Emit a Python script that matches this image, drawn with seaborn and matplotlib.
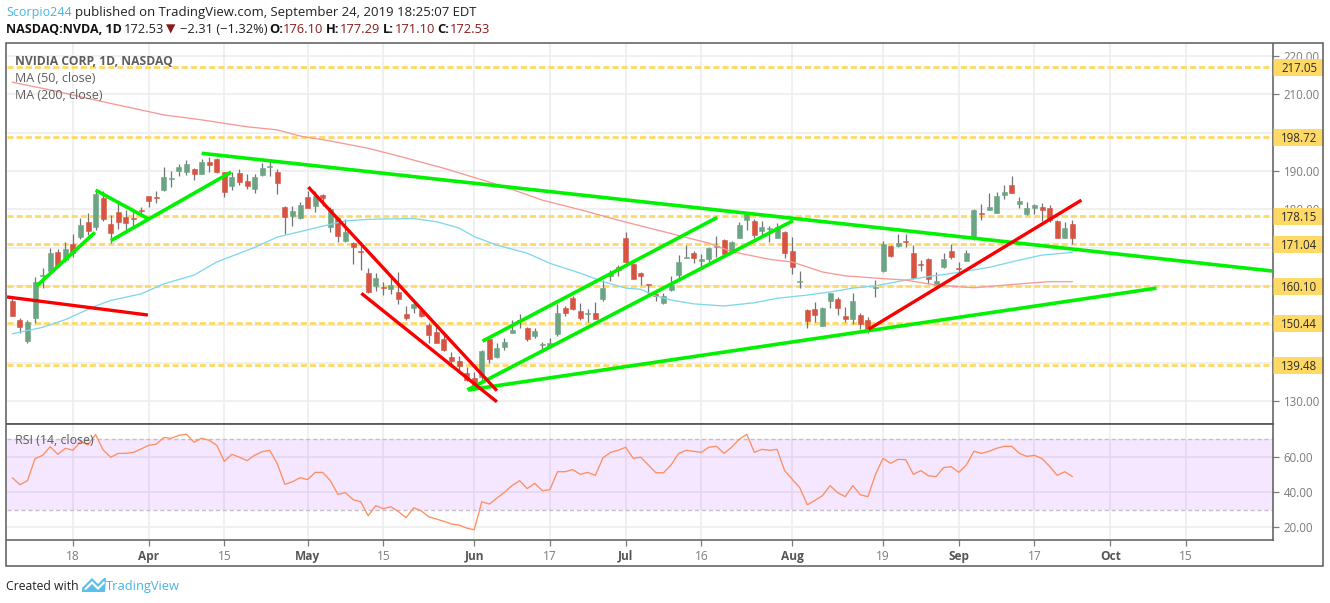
import matplotlib
matplotlib.use("Agg")

import matplotlib.pyplot as plt
from matplotlib.patches import Polygon, Rectangle
from matplotlib.transforms import Affine2D
import seaborn as sns
import pandas as pd
import numpy as np


# ==================================================
# Candles (one per trading day, 6 Mar - 24 Sep 2019)
# ==================================================

opens = [
    156.2, 151.2, 145.7, 151.7, 162.6, 164.0, 169.0, 166.8, 171.1, 172.7,
    176.8, 175.3, 182.9, 176.1, 179.4, 177.9, 177.6, 179.9, 183.4, 183.2,
    185.0, 188.0, 190.0, 189.7, 190.4, 189.2, 192.25, 193.0, 189.65, 186.1,
    189.55, 187.5, 185.2, 188.95, 191.1, 189.65, 180.7, 178.3, 177.8, 183.1,
    180.9, 183.7, 175.5, 177.8, 171.85, 171.3, 169.1, 163.5, 160.05, 159.8,
    159.2, 158.6, 152.7, 154.25, 153.8, 149.9, 148.15, 146.2, 141.65, 140.6,
    137.5, 136.1, 136.3, 146.2, 141.5, 144.1, 147.75, 151.05, 149.2, 147.1,
    144.7, 144.25, 147.5, 154.4, 157.0, 153.6, 152.75, 153.1, 156.6, 162.65,
    165.1, 172.6, 165.8, 163.35, 160.4, 158.05, 155.55, 158.9, 162.85, 167.4,
    168.55, 166.5, 167.1, 170.3, 172.0, 169.0, 172.6, 177.25, 177.05, 174.4,
    174.8, 172.6, 174.2, 169.25, 161.1, 153.8, 154.0, 149.7, 156.15, 156.75,
    152.3, 151.45, 152.5, 151.15, 159.45, 164.05, 170.55, 170.45, 171.7, 168.55,
    165.7, 167.15, 160.3, 164.9, 169.1, 164.6, 166.55, 172.7, 179.0, 179.8,
    179.1, 183.8, 186.25, 181.4, 178.8, 180.4, 180.7, 180.3, 177.05, 172.6,
    176.10,
]

highs = [
    156.7, 151.7, 151.2, 162.4, 164.7, 169.9, 169.6, 171.6, 173.5, 177.7,
    179.1, 185.0, 184.9, 178.5, 181.8, 179.8, 179.8, 180.6, 183.5, 184.9,
    190.95, 190.1, 191.8, 192.85, 190.7, 193.0, 193.55, 193.3, 189.8, 189.8,
    190.4, 189.2, 189.1, 192.15, 192.7, 190.4, 180.95, 180.9, 182.0, 184.9,
    184.9, 184.0, 180.5, 178.1, 177.4, 171.6, 171.6, 164.7, 163.5, 161.2,
    162.05, 163.8, 154.9, 156.0, 154.7, 150.35, 149.9, 147.75, 142.95, 141.8,
    138.9, 137.75, 143.4, 146.35, 145.15, 146.45, 151.2, 152.7, 149.45, 149.2,
    145.55, 146.45, 155.3, 154.85, 157.45, 155.7, 154.0, 156.0, 161.6, 164.2,
    165.5, 174.0, 165.95, 163.6, 160.6, 158.85, 158.15, 162.65, 168.1, 170.7,
    169.15, 168.3, 170.3, 173.05, 172.2, 171.85, 176.8, 179.1, 177.55, 177.05,
    175.7, 176.4, 174.45, 172.9, 164.05, 154.0, 155.8, 154.5, 158.3, 157.1,
    154.5, 158.15, 153.1, 151.9, 161.6, 171.75, 170.7, 173.5, 173.5, 170.7,
    166.8, 167.25, 163.6, 168.55, 170.9, 166.2, 169.4, 180.0, 181.3, 184.2,
    184.45, 186.35, 188.7, 183.15, 181.8, 181.4, 181.6, 181.15, 177.25, 176.8,
    177.29,
]

lows = [
    152.25, 147.9, 145.2, 150.4, 159.5, 163.7, 165.1, 166.4, 167.7, 172.2,
    173.3, 174.6, 177.05, 171.3, 174.8, 173.9, 175.15, 178.3, 180.7, 181.7,
    184.9, 185.9, 188.7, 188.95, 187.65, 189.2, 189.8, 189.55, 183.3, 185.0,
    186.35, 185.2, 184.3, 188.7, 188.7, 183.9, 173.6, 175.7, 177.4, 180.3,
    179.4, 180.9, 174.2, 171.6, 171.6, 165.7, 164.2, 158.3, 158.75, 157.7,
    158.0, 155.4, 151.2, 152.95, 152.05, 145.15, 145.15, 143.2, 139.05, 137.75,
    135.4, 133.0, 135.6, 140.1, 141.25, 143.4, 147.75, 149.2, 145.8, 146.6,
    142.95, 143.85, 147.1, 152.3, 153.8, 151.2, 150.75, 151.45, 156.2, 161.35,
    162.65, 165.95, 161.8, 160.3, 157.7, 156.2, 155.3, 158.75, 162.05, 167.25,
    166.1, 165.1, 166.2, 167.7, 168.1, 168.7, 172.45, 174.6, 172.45, 172.9,
    171.4, 172.45, 167.25, 163.2, 159.45, 149.05, 150.6, 149.65, 154.25, 152.5,
    150.6, 150.1, 148.8, 147.9, 157.1, 163.6, 167.5, 170.1, 170.1, 161.9,
    164.05, 160.55, 160.05, 164.8, 167.0, 162.9, 166.5, 172.0, 177.25, 179.8,
    179.0, 182.6, 184.2, 180.3, 178.55, 178.8, 177.05, 176.8, 172.45, 172.45,
    171.10,
]

closes = [
    152.25, 149.5, 150.7, 161.2, 162.8, 168.7, 165.3, 169.8, 168.7, 175.9,
    174.4, 183.9, 177.5, 173.9, 176.8, 176.5, 177.4, 179.7, 182.2, 183.0,
    188.5, 188.2, 190.95, 191.7, 189.2, 192.25, 191.55, 189.8, 184.5, 188.35,
    187.1, 186.1, 188.5, 190.7, 191.3, 186.8, 177.9, 179.6, 181.05, 180.3,
    183.5, 182.9, 180.0, 173.1, 174.0, 170.1, 168.9, 158.4, 162.2, 159.6,
    160.4, 156.6, 151.65, 155.3, 152.25, 147.2, 145.15, 143.4, 140.5, 139.2,
    135.6, 133.85, 143.2, 141.15, 144.0, 145.55, 148.7, 150.85, 146.2, 148.4,
    144.9, 145.3, 153.1, 153.1, 154.0, 151.65, 152.95, 151.45, 159.45, 163.5,
    164.15, 166.2, 161.95, 162.6, 160.2, 157.4, 157.45, 160.3, 166.4, 167.6,
    167.25, 167.15, 169.85, 170.5, 168.4, 171.4, 175.9, 178.8, 173.25, 175.3,
    175.0, 175.5, 168.55, 164.9, 161.3, 150.85, 152.4, 154.25, 158.3, 154.25,
    151.45, 156.2, 150.15, 148.8, 159.65, 171.0, 167.85, 171.3, 171.5, 162.2,
    165.5, 161.8, 161.45, 167.15, 167.5, 164.4, 168.7, 179.8, 178.8, 180.5,
    183.5, 184.45, 184.35, 182.1, 180.3, 181.15, 179.8, 177.25, 172.6, 175.05,
    172.53,
]


# ==================================================
# Moving averages
# ==================================================

ma50_bars = [
    0, 4, 7, 11, 13, 17, 20, 24, 27, 32, 35, 38, 42, 44, 47, 49, 53, 56, 59, 61,
    64, 68, 71, 75, 78, 81, 83, 85, 87, 90, 94, 98, 101, 105, 108, 111, 114, 118,
    121, 125, 129, 133, 136, 140,
]
ma50_values = [
    147.6, 149.3, 151.3, 154.85, 156.3, 158.0, 160.6, 162.9, 166.3, 170.1, 172.8,
    174.2, 176.1, 177.0, 177.4, 177.5, 177.6, 176.8, 175.15, 172.9, 170.7, 168.6,
    165.95, 163.4, 161.2, 159.5, 159.2, 157.45, 156.4, 155.4, 154.85, 155.7,
    156.85, 157.7, 158.5, 159.5, 160.1, 161.6, 162.5, 163.6, 164.9, 166.8, 168.1,
    168.8,
]

ma200_bars = [
    0, 5, 12, 16, 20, 25, 31, 35, 38, 42, 47, 51, 57, 65, 70, 76, 80, 86, 92, 95,
    100, 103, 107, 110, 114, 118, 122, 127, 133, 137, 140,
]
ma200_values = [
    213.1, 211.1, 208.0, 206.3, 204.6, 203.3, 201.5, 200.7, 199.1, 197.8, 195.9,
    193.9, 190.7, 185.9, 182.4, 179.4, 177.2, 174.2, 171.2, 169.0, 167.0, 166.3,
    163.7, 162.7, 162.1, 161.6, 160.3, 159.6, 160.6, 161.2, 161.2,
]


# ==================================================
# RSI
# ==================================================

rsi_values = [
    48.2, 44.2, 46.5, 59.0, 60.9, 65.8, 61.5, 64.9, 63.75, 68.7,
    66.8, 72.7, 63.9, 59.8, 62.0, 62.0, 62.6, 64.5, 66.6, 67.2,
    71.0, 70.6, 72.3, 72.85, 68.3, 70.6, 69.4, 66.6, 57.5, 61.5,
    59.8, 57.9, 60.9, 63.0, 63.75, 56.0, 44.4, 45.9, 48.2, 47.1,
    51.2, 51.2, 46.5, 38.7, 39.7, 35.7, 34.6, 26.6, 32.3, 30.6,
    31.7, 28.9, 25.5, 31.1, 29.4, 26.0, 24.7, 23.4, 21.9, 21.3,
    19.6, 18.6, 34.6, 33.2, 36.6, 39.9, 43.7, 46.5, 42.0, 45.0,
    40.8, 41.4, 51.6, 51.6, 52.8, 50.1, 51.2, 49.5, 59.4, 62.6,
    63.75, 65.5, 59.2, 59.8, 55.4, 51.0, 51.0, 55.4, 62.0, 63.75,
    63.2, 62.6, 65.5, 66.0, 62.0, 65.5, 70.0, 72.85, 62.6, 64.3,
    63.75, 64.3, 52.2, 47.3, 42.5, 32.8, 35.3, 38.0, 43.7, 39.7,
    37.4, 43.7, 38.5, 37.4, 50.1, 59.2, 56.4, 58.6, 58.4, 50.1,
    52.2, 49.3, 48.8, 53.9, 54.5, 51.2, 55.4, 63.2, 62.0, 63.2,
    64.9, 66.0, 66.0, 62.0, 60.3, 60.9, 59.0, 54.6, 49.5, 51.6,
    48.8,
]


# ==================================================
# Drawn levels and trend lines (bar, price, bar, price)
# ==================================================

levels = [217.05, 198.72, 178.15, 171.04, 160.10, 150.44, 139.48]

green_lines = [
    (3.2, 160.05, 10.9, 174.0),
    (11.0, 185.0, 18.0, 177.5),
    (13.0, 171.85, 28.9, 189.7),
    (25.0, 194.6, 166.4, 163.96),
    (62.1, 145.7, 93.1, 177.9),
    (60.1, 133.0, 103.1, 177.05),
    (60.2, 133.0, 151.1, 159.5),
]

red_lines = [
    (-0.7, 157.2, 17.9, 152.5),
    (39.1, 185.8, 64.0, 132.8),
    (46.1, 158.15, 64.0, 129.9),
    (113.1, 148.8, 141.2, 182.4),
]


# ==================================================
# Axis labels
# ==================================================

price_ticks = [130, 140, 150, 160, 170, 180, 190, 200, 210, 220]
price_tick_labels = ["130.00", "", "", "", "", "180.00", "190.00", "", "210.00", "220.00"]

rsi_ticks = [20, 40, 60]
rsi_tick_labels = ["20.00", "40.00", "60.00"]

date_bars = [8, 18, 28, 39, 49, 61, 71, 81, 91, 103, 115, 125, 135, 145, 155]
date_labels = ["18", "Apr", "15", "May", "15", "Jun", "17", "Jul", "16", "Aug", "19", "Sep", "17", "Oct", "15"]
month_labels = ["Apr", "May", "Jun", "Jul", "Aug", "Sep", "Oct"]


# ==================================================
# Colours
# ==================================================

GREEN = "#6BA583"
RED = "#D75442"
WICK = "#737375"
LEVEL = "#FFD966"
FRAME = "#5A5A5A"
GRID = "#EDEDEF"
SCALE_TEXT = "#7B7B7B"
LEGEND_TEXT = "#5E5E5E"
BLUE = "#45B5E6"
DARK_RED = "#8B1A1A"
INK = "#222222"


# ==================================================
# Figure
# ==================================================

sns.set_theme(style="white")
plt.rcParams["font.family"] = ["Open Sans", "DejaVu Sans"]

WIDTH = 1330
HEIGHT = 603

fig = plt.figure(figsize=(WIDTH / 100, HEIGHT / 100), dpi=100, facecolor="white")


def panel(top, bottom):
    return fig.add_axes([
        6.5 / WIDTH,
        1 - bottom / HEIGHT,
        (1273 - 6.5) / WIDTH,
        (bottom - top) / HEIGHT
    ])


ax = panel(44, 424)
ax_rsi = panel(424, 540)

# pixel transform with the origin at the top left
pixels = Affine2D().scale(1, -1).translate(0, HEIGHT)

fig.patches.append(Rectangle(
    (6, 43), 1317, 523, transform=pixels,
    fill=False, edgecolor=FRAME, linewidth=1.1
))


# ==================================================
# Price panel
# ==================================================

candles = pd.DataFrame({
    "open": opens,
    "high": highs,
    "low": lows,
    "close": closes
})
candles["bar"] = np.arange(len(candles))
candles["colour"] = np.where(candles["close"] >= candles["open"], GREEN, RED)

ax.vlines(
    candles["bar"], candles["low"], candles["high"],
    color=WICK, linewidth=0.9, zorder=3
)

ax.bar(
    candles["bar"],
    (candles["close"] - candles["open"]).abs().clip(lower=0.25),
    bottom=candles[["open", "close"]].min(axis=1),
    width=0.66,
    color=candles["colour"],
    edgecolor=candles["colour"],
    linewidth=0.4,
    zorder=4
)

ma50 = pd.DataFrame({"bar": ma50_bars, "value": ma50_values})
ma200 = pd.DataFrame({"bar": ma200_bars, "value": ma200_values})

sns.lineplot(data=ma50, x="bar", y="value", ax=ax, color="#7FD8EA", linewidth=0.95, zorder=5)
sns.lineplot(data=ma200, x="bar", y="value", ax=ax, color="#F59A96", linewidth=0.95, zorder=5)

for level in levels:
    ax.axhline(level, color=LEVEL, linewidth=2.0, dashes=(2.2, 1.1), zorder=2)

    ax.add_patch(Rectangle(
        (1.0, level), 50 / (1273 - 6.5), 0,
        transform=ax.get_yaxis_transform(),
        clip_on=False, zorder=9,
        edgecolor=LEVEL, linewidth=12.2, capstyle="butt"
    ))

    ax.text(
        1.0 + 26 / (1273 - 6.5), level, f"{level:.2f}",
        transform=ax.get_yaxis_transform(),
        ha="center", va="center_baseline", fontsize=8.3,
        color="#2B2B2B", zorder=10
    )

for x0, y0, x1, y1 in green_lines:
    ax.plot([x0, x1], [y0, y1], color="#00F200", linewidth=2.6, solid_capstyle="butt", zorder=6)

for x0, y0, x1, y1 in red_lines:
    ax.plot([x0, x1], [y0, y1], color="#FA0000", linewidth=2.4, solid_capstyle="butt", zorder=6)

ax.set_ylim(124.13, 223.05)
ax.set_yticks(price_ticks)
ax.set_yticklabels(price_tick_labels)


# ==================================================
# RSI panel
# ==================================================

ax_rsi.axhspan(30, 70, facecolor="#9915FF", alpha=0.1, edgecolor="none", zorder=1)
ax_rsi.axhline(70, color="#C4BECB", linewidth=1, dashes=(3, 2), zorder=2)
ax_rsi.axhline(30, color="#C4BECB", linewidth=1, dashes=(3, 2), zorder=2)

rsi = pd.DataFrame({"bar": np.arange(len(rsi_values)), "value": rsi_values})

sns.lineplot(data=rsi, x="bar", y="value", ax=ax_rsi, color="#FF8F5E", linewidth=0.95, zorder=5)

ax_rsi.set_ylim(12.8, 78.7)
ax_rsi.set_yticks(rsi_ticks)
ax_rsi.set_yticklabels(rsi_tick_labels)


# ==================================================
# Shared axis styling
# ==================================================

for axis in [ax, ax_rsi]:
    axis.set_xlim(-0.77, 166.5)
    axis.set_xlabel("")
    axis.set_ylabel("")
    axis.set_xticks(date_bars)
    axis.grid(True, color=GRID, linewidth=1.2, zorder=0)
    axis.set_axisbelow(True)
    axis.yaxis.tick_right()
    axis.tick_params(
        axis="y", length=4, width=0.9, color=SCALE_TEXT,
        labelcolor=SCALE_TEXT, labelsize=8.3, pad=3.6, right=True
    )
    for spine in axis.spines.values():
        spine.set_color(FRAME)
        spine.set_linewidth(1.1)
    axis.spines["left"].set_visible(False)

ax.tick_params(axis="x", bottom=False, labelbottom=False)
ax.spines["top"].set_visible(False)

ax_rsi.spines["top"].set_linewidth(1.3)
ax_rsi.set_xticklabels(date_labels)
ax_rsi.tick_params(
    axis="x", bottom=True, length=4, width=0.9, color=SCALE_TEXT,
    labelcolor=SCALE_TEXT, labelsize=8.6, pad=3
)

for tick_text in ax_rsi.get_xticklabels():
    if tick_text.get_text() in month_labels:
        tick_text.set_fontweight("bold")
        tick_text.set_color("#555555")


# ==================================================
# Header, panel legends, footer
# ==================================================

def label(x, y, string, colour=INK, weight="normal", size=9.3):
    fig.text(
        x, y, string, transform=pixels, color=colour,
        fontweight=weight, fontsize=size, va="baseline", ha="left", zorder=20
    )


label(6, 16, "Scorpio244", BLUE, size=9.0)
label(75, 16, "published on TradingView.com, September 24, 2019 18:25:07 EDT", size=9.45)

label(6, 33, "NASDAQ:NVDA, 1D", "#111111", "bold", 9.0)
label(124, 33, "172.53")
label(166, 33, "▼", DARK_RED, size=8.8)
label(180, 33, "−2.31 (−1.32%)")
label(269, 33, "O:", "#111111", "bold")
label(283, 33, "176.10", DARK_RED)
label(326, 33, "H:", "#111111", "bold")
label(340, 33, "177.29", DARK_RED)
label(383, 33, "L:", "#111111", "bold")
label(395, 33, "171.10", DARK_RED)
label(437, 33, "C:", "#111111", "bold")
label(450, 33, "172.53", DARK_RED)

label(15, 65, "NVIDIA CORP, 1D, NASDAQ", LEGEND_TEXT, "bold", 8.7)
label(15, 82, "MA (50, close)", LEGEND_TEXT, size=9)
label(15, 99, "MA (200, close)", LEGEND_TEXT, size=9)
label(15, 444, "RSI (14, close)", LEGEND_TEXT, size=8.9)

label(6, 590, "Created with", size=8.8)

# small cloud logo of the footer
fig.patches.append(Polygon(
    [(82, 592), (82, 588), (92, 578), (98, 584), (104, 578), (106, 578), (105, 592)],
    transform=pixels, closed=True, facecolor="#5BC0E8", edgecolor="none"
))
fig.patches.append(Polygon(
    [(84, 589), (92, 581), (98, 587), (104, 581), (105, 583), (98, 590), (92, 584), (86, 590)],
    transform=pixels, closed=True, facecolor="white", edgecolor="none"
))

label(106, 590, "TradingView", BLUE, size=9.3)

fig.savefig("out.png", dpi=100, facecolor="white")
